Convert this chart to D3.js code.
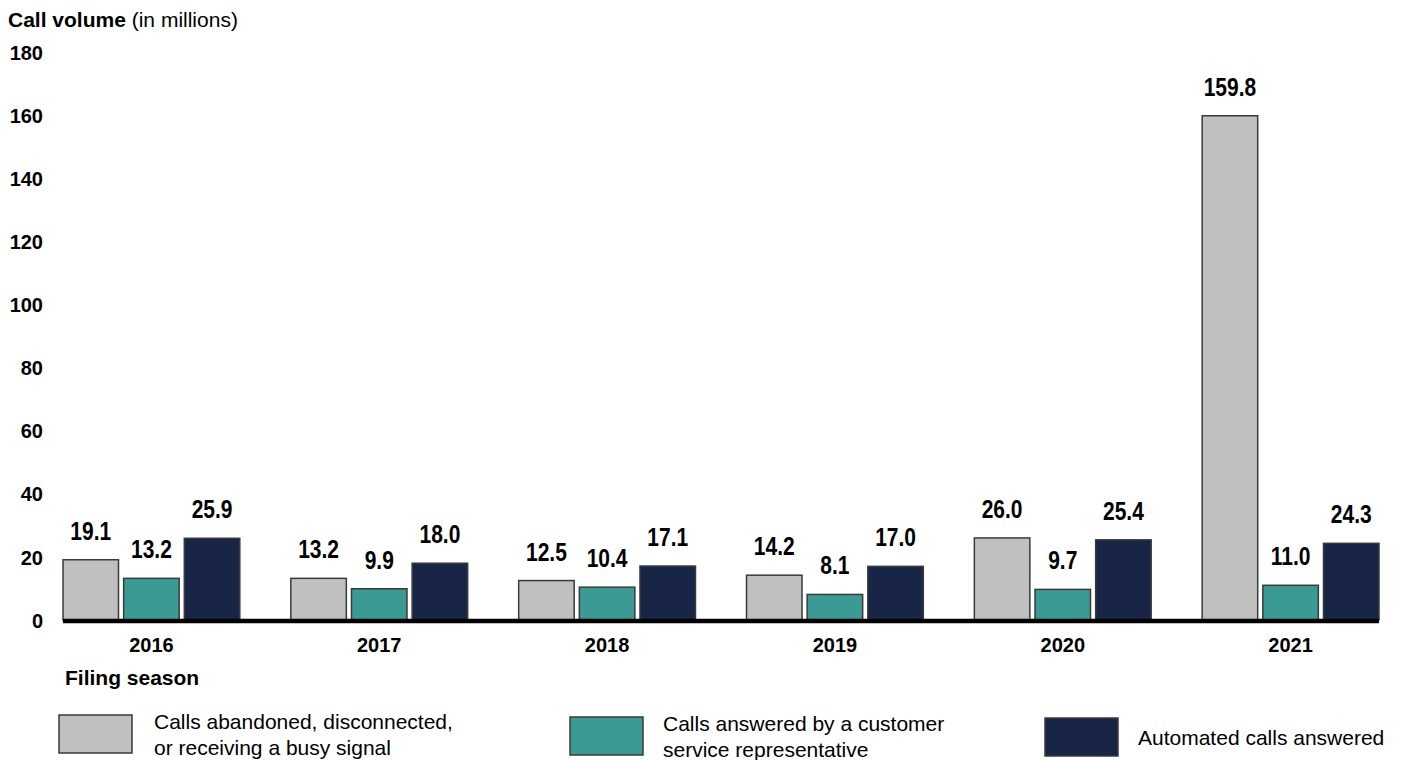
<!DOCTYPE html>
<html>
<head>
<meta charset="utf-8">
<script src="https://cdn.jsdelivr.net/npm/d3@7"></script>
<style>
  html, body { margin: 0; padding: 0; background: #fff; }
  svg { display: block; }
</style>
</head>
<body>
<svg id="chart" width="1401" height="760"></svg>
<script>
const years = ["2016", "2017", "2018", "2019", "2020", "2021"];
const seriesNames = [
  "Calls abandoned, disconnected, or receiving a busy signal",
  "Calls answered by a customer service representative",
  "Automated calls answered"
];
const abandoned = [19.1, 13.2, 12.5, 14.2, 26.0, 159.8];
const representative = [13.2, 9.9, 10.4, 8.1, 9.7, 11.0];
const automated = [25.9, 18.0, 17.1, 17.0, 25.4, 24.3];
const yTicks = [0, 20, 40, 60, 80, 100, 120, 140, 160, 180];
const colors = ["#c0c0c0", "#3c9a94", "#182546"];
const legendLines = [
  ["Calls abandoned, disconnected,", "or receiving a busy signal"],
  ["Calls answered by a customer", "service representative"],
  ["Automated calls answered"]
];

const seriesValues = [abandoned, representative, automated];
const svg = d3.select("#chart");

const y = d3.scaleLinear().domain([0, 180]).range([620, 52]);
const x0 = d3.scaleBand().domain(years).range([63, 1379]).paddingInner(0.224).paddingOuter(0);
const x1 = d3.scaleBand().domain([0, 1, 2]).range([0, x0.bandwidth()]).paddingInner(0.085);

const font = "'Liberation Sans', Arial, sans-serif";

// Title
const title = svg.append("text").attr("x", 8).attr("y", 27)
  .style("font-family", font).style("font-size", "21px").attr("fill", "#000");
title.append("tspan").attr("font-weight", "bold").text("Call volume");
title.append("tspan").text(" (in millions)");

// Y axis
const yAxis = d3.axisLeft(y).tickValues(yTicks).tickSize(0).tickPadding(0);
const yg = svg.append("g").attr("transform", "translate(43,0)").call(yAxis);
yg.select(".domain").remove();
yg.selectAll("text")
  .style("font-family", font).style("font-size", "20px").style("font-weight", "bold")
  .attr("fill", "#000").attr("dy", "0.36em");

// Bars
const groups = svg.append("g").selectAll("g").data(years).join("g")
  .attr("transform", d => `translate(${x0(d)},0)`);

groups.each(function(yr, i) {
  const g = d3.select(this);
  const vals = seriesValues.map((arr, s) => ({ s, v: arr[i] }));
  g.selectAll("rect").data(vals).join("rect")
    .attr("x", d => x1(d.s))
    .attr("width", x1.bandwidth())
    .attr("y", d => y(d.v))
    .attr("height", d => y(0) - y(d.v))
    .attr("fill", d => colors[d.s])
    .attr("stroke", "#3a3a3a")
    .attr("stroke-width", 1.5);
  g.selectAll("text.val").data(vals).join("text")
    .attr("class", "val")
    .attr("transform", d => `translate(${x1(d.s) + x1.bandwidth() / 2},${y(d.v) - 20}) scale(0.84,1)`)
    .attr("text-anchor", "middle")
    .style("font-family", font).style("font-size", "25px").style("font-weight", "bold")
    .attr("fill", "#000")
    .text(d => d.v.toFixed(1));
});

// Baseline
svg.append("line")
  .attr("x1", x0.range()[0]).attr("x2", x0.range()[1])
  .attr("y1", y(0) + 1).attr("y2", y(0) + 1)
  .attr("stroke", "#000").attr("stroke-width", 4.5);

// X axis labels
const xAxis = d3.axisBottom(x0).tickSize(0).tickPadding(0);
const xg = svg.append("g").attr("transform", "translate(0,652)").call(xAxis);
xg.select(".domain").remove();
xg.selectAll("text")
  .attr("y", 0).attr("dy", 0)
  .style("font-family", font).style("font-size", "20px").style("font-weight", "bold")
  .attr("fill", "#000");

svg.append("text").attr("x", 65).attr("y", 685)
  .style("font-family", font).style("font-size", "21px").style("font-weight", "bold")
  .attr("fill", "#000").text("Filing season");

// Legend
const legendPos = [
  { rx: 59, ry: 715, tx: 154 },
  { rx: 570, ry: 717, tx: 663 },
  { rx: 1045, ry: 718, tx: 1138 }
];
seriesNames.forEach((name, s) => {
  const p = legendPos[s];
  svg.append("rect").attr("x", p.rx).attr("y", p.ry).attr("width", 73).attr("height", 38)
    .attr("fill", colors[s]).attr("stroke", "#3a3a3a").attr("stroke-width", 1.5)
    .append("title").text(name);
  const lines = legendLines[s];
  const t = svg.append("text")
    .style("font-family", font).style("font-size", "21px").attr("fill", "#000");
  const cy = p.ry + 19;
  const startY = lines.length === 1 ? cy + 8 : cy - 13 + 8;
  lines.forEach((ln, k) => {
    t.append("tspan").attr("x", p.tx).attr("y", startY + k * 26).text(ln);
  });
});
</script>
</body>
</html>
